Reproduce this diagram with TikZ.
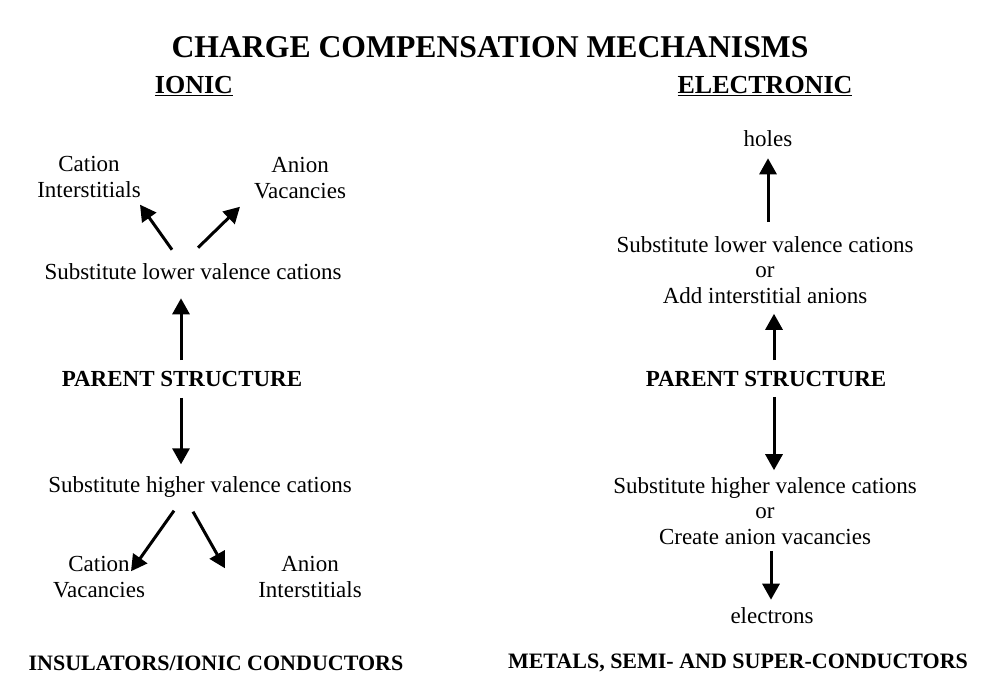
\documentclass[tikz,border=0pt]{standalone}
\usepackage{fontspec}
\setmainfont{Liberation Serif}
\usetikzlibrary{arrows.meta,calc}
\begin{document}
\begin{tikzpicture}[x=1pt,y=-1pt,
  txt/.style={align=center,inner sep=2pt,font=\fontsize{23}{25.5}\selectfont},
  hdr/.style={inner sep=2pt,font=\fontsize{23}{25.5}\selectfont\bfseries},
  arr/.style={line width=3pt,-{Triangle[length=16pt,width=17pt]}}]
\useasboundingbox (0,0) rectangle (992,681);
\node[font=\fontsize{31.7}{34}\selectfont\bfseries] (T) at (490,47) {CHARGE COMPENSATION MECHANISMS};
\node[hdr,font=\fontsize{26}{28}\selectfont\bfseries] (IH) at (194,86) {\underline{IONIC}};
\node[hdr,font=\fontsize{26}{28}\selectfont\bfseries] (EH) at (765,86) {\underline{ELECTRONIC}};
% ionic side
\node[txt] (CI) at (89,177) {Cation\\Interstitials};
\node[txt] (AV) at (300,178) {Anion\\Vacancies};
\node[txt] (SL) at (193,272) {Substitute lower valence cations};
\node[hdr] (P1) at (182,379) {PARENT STRUCTURE};
\node[txt] (SH) at (200,487) {Substitute higher valence cations};
\node[txt] (CV) at (99,577) {Cation\\Vacancies};
\node[txt] (AI) at (310,577) {Anion\\Interstitials};
\node[hdr,font=\fontsize{22}{25}\selectfont\bfseries] (B1) at (216,663) {INSULATORS/IONIC CONDUCTORS};
\draw[arr] ($(SL.north)+(-21,-12)$) -- ($(CI.south)+(51,5)$);
\draw[arr] ($(SL.north)+(5,-14)$) -- ($(AV.south)+(-60,6)$);
\draw[arr] ($(P1.north)+(-1,-9)$) -- ($(SL.south)+(-12,16)$);
\draw[arr] ($(P1.south)+(-1,9)$) -- ($(SH.north)+(-19,-10)$);
\draw[arr] ($(SH.south)+(-26,11)$) -- ($(CV.north)+(32,17)$);
\draw[arr] ($(SH.south)+(-7,12)$) -- ($(AI.north)+(-85,14)$);
% electronic side
\node[txt] (HO) at (768,139) {holes};
\node[txt] (SL2) at (765,270) {Substitute lower valence cations\\or\\Add interstitial anions};
\node[hdr] (P2) at (766,379) {PARENT STRUCTURE};
\node[txt] (SH2) at (765,511) {Substitute higher valence cations\\or\\Create anion vacancies};
\node[txt] (EL) at (772,616) {electrons};
\node[hdr,font=\fontsize{22}{25}\selectfont\bfseries] (B2) at (738,663) {METALS, SEMI- AND SUPER-CONDUCTORS};
\draw[arr] ($(SL2.north)+(3,-12)$) -- ($(HO.south)+(0,9)$);
\draw[arr] ($(P2.north)+(8,-9)$) -- ($(SL2.south)+(9,8)$);
\draw[arr] ($(P2.south)+(8,8)$) -- ($(SH2.north)+(9,-5)$);
\draw[arr] ($(SH2.south)+(6,4)$) -- ($(EL.north)+(-1,-6)$);
\end{tikzpicture}
\end{document}
